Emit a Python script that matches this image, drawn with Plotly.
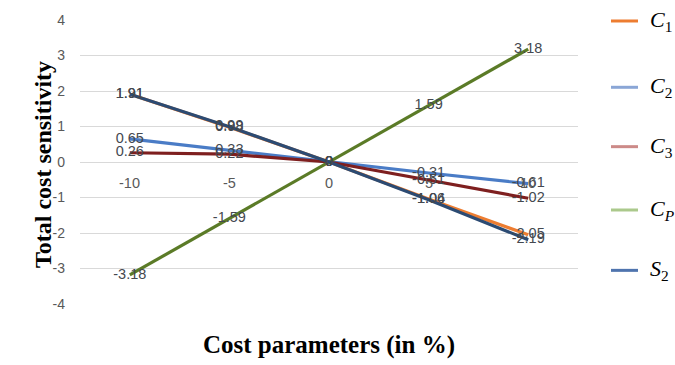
import plotly.graph_objects as go

# Cost parameter change (%) and the resulting total cost sensitivity
categories = ["-10", "-5", "0", "5", "10"]
c1_values = [1.91, 0.98, 0, -1.04, -2.05]
c2_values = [0.65, 0.33, 0, -0.31, -0.61]
c3_values = [0.26, 0.22, 0, -0.51, -1.02]
cp_values = [-3.18, -1.59, 0, 1.59, 3.18]
s2_values = [1.91, 0.99, 0, -1.06, -2.19]
y_ticks = [4, 3, 2, 1, 0, -1, -2, -3, -4]

series = [
    ("<i>C</i><sub>1</sub>", c1_values, "#ED7D31", "#ED7D31"),
    ("<i>C</i><sub>2</sub>", c2_values, "#4A7CC6", "#8AA6D6"),
    ("<i>C</i><sub>3</sub>", c3_values, "#7E1F1F", "#CC8A88"),
    ("<i>C<sub>P</sub></i>", cp_values, "#5B7B27", "#ABC98C"),
    ("<i>S</i><sub>2</sub>", s2_values, "#2C4B73", "#4F74AE"),
]

fig = go.Figure()

# Lines
for name, vals, color, _ in series:
    fig.add_trace(go.Scatter(
        x=categories, y=vals, mode="lines",
        line=dict(color=color, width=3.2),
        showlegend=False, hoverinfo="skip",
    ))

# Data labels drawn on top of all lines
for name, vals, color, _ in series:
    fig.add_trace(go.Scatter(
        x=categories, y=vals, mode="text",
        text=[f"{v:g}" for v in vals], textposition="middle center",
        textfont=dict(family="Liberation Sans", size=14.5, color="#44484f"),
        showlegend=False, hoverinfo="skip",
    ))

# Category labels sit just below the zero line
for i, cat in enumerate(categories):
    fig.add_annotation(
        x=i, y=0, xref="x", yref="y", text=cat, showarrow=False,
        yshift=-21, font=dict(family="Liberation Sans", size=14.5, color="#595959"),
    )

# Legend on the right: short line sample plus italic math label
legend_y_px = [20, 87, 147, 211, 272]
plot_top, plot_h = 19, 287
for (name, _, _, legend_color), ypx in zip(series, legend_y_px):
    yp = (plot_top + plot_h - ypx) / plot_h
    fig.add_shape(type="line", xref="paper", yref="paper",
                  x0=(611 - 80) / 498, x1=(638 - 80) / 498, y0=yp, y1=yp,
                  line=dict(color=legend_color, width=3))
    fig.add_annotation(x=(648 - 80) / 498, y=yp, xref="paper", yref="paper",
                       xanchor="left", yanchor="middle", text=name, showarrow=False,
                       font=dict(family="Liberation Serif", size=22, color="#000000"))

fig.add_annotation(
    x=-0.104, y=0.49, xref="paper", yref="paper", text="<b>Total cost sensitivity</b>",
    textangle=-90, showarrow=False,
    font=dict(family="Liberation Serif", size=24, color="#000000"),
)

fig.update_layout(
    width=675, height=365,
    margin=dict(l=80, r=97, t=19, b=59),
    plot_bgcolor="white", paper_bgcolor="white",
    showlegend=False,
    xaxis=dict(
        type="category", range=[-0.5, 4.5], showticklabels=False,
        showgrid=False, zeroline=False, showline=False, ticks="",
        title=dict(text="<b>Cost parameters (in %)</b>", standoff=31,
                   font=dict(family="Liberation Serif", size=25, color="#000000")),
    ),
    yaxis=dict(
        range=[-4, 4], tickvals=y_ticks, ticktext=[str(t) for t in y_ticks],
        showgrid=True, gridcolor="#D9D9D9", gridwidth=1,
        zeroline=False, showline=False, ticks="", ticklabelstandoff=14,
        tickfont=dict(family="Liberation Sans", size=14, color="#595959"),
    ),
)

fig.write_html("out.html")
